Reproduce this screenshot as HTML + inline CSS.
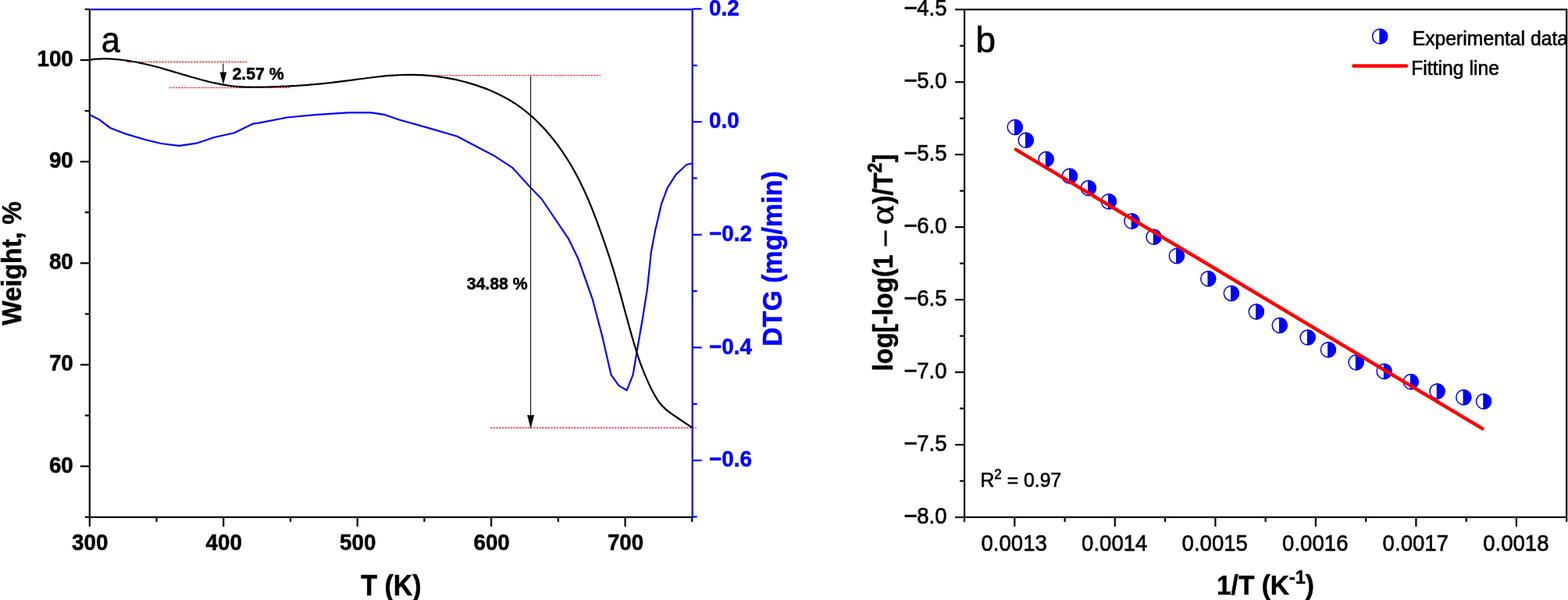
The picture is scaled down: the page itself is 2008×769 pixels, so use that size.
<!DOCTYPE html><html><head><meta charset="utf-8"><title>TG/DTG and kinetics plot</title><style>html,body{margin:0;padding:0;background:#fff;width:2008px;height:769px;overflow:hidden}</style></head><body><svg xmlns="http://www.w3.org/2000/svg" width="2008" height="769" viewBox="0 0 2008 769" style="display:block" font-family='"Liberation Sans", Arial, Helvetica, sans-serif'>
<defs><clipPath id="clipb"><rect x="1230" y="0" width="775.4" height="769"/></clipPath></defs>
<rect width="2008" height="769" fill="#fff"/>
<line x1="162.9" y1="79.4" x2="316.1" y2="79.4" stroke="#f00" stroke-width="1.2" stroke-dasharray="2.3 1.4" fill="none"/>
<line x1="217.1" y1="112.5" x2="370.4" y2="112.5" stroke="#f00" stroke-width="1.2" stroke-dasharray="2.3 1.4" fill="none"/>
<line x1="494" y1="96.5" x2="769.3" y2="96.5" stroke="#f00" stroke-width="1.2" stroke-dasharray="2.3 1.4" fill="none"/>
<line x1="627.8" y1="548.4" x2="891.8" y2="548.4" stroke="#f00" stroke-width="1.2" stroke-dasharray="2.3 1.4" fill="none"/>
<polyline points="114.8,147.0 127.5,153.6 141.2,164.0 159.3,171.1 186.7,179.3 206.4,184.0 229.4,186.8 251.3,183.7 274.3,176.0 299.5,170.5 323.6,158.7 330.0,157.9 367.8,150.5 403.7,147.2 445.5,144.3 475.4,144.3 493.3,147.2 511.2,153.5 550.0,164.4 585.4,174.8 632.9,199.7 656.1,214.8 679.3,240.2 693.6,255.0 727.9,305.8 739.9,330.4 743.5,340.0 758.7,383.3 771.6,432.4 782.6,480.4 792.6,494.4 802.7,500.2 810.6,480.4 814.9,454.6 823.0,407.8 828.9,370.4 833.9,322.7 839.4,293.9 847.2,260.8 854.9,240.4 866.0,223.2 879.2,211.0 885.9,209.5" fill="none" stroke="#00f" stroke-width="2.2" stroke-linejoin="round"/>
<path d="M114.8,76.6 C116.1,76.5 120.1,75.9 122.8,75.7 C125.5,75.5 128.1,75.4 130.8,75.3 C133.5,75.2 136.1,75.3 138.8,75.4 C141.5,75.5 144.1,75.6 146.8,75.8 C149.5,76.0 152.1,76.3 154.8,76.6 C157.5,76.9 160.1,77.3 162.8,77.7 C165.5,78.1 168.1,78.6 170.8,79.0 C173.5,79.5 176.1,80.0 178.8,80.6 C181.5,81.1 184.1,81.7 186.8,82.3 C189.5,82.9 192.1,83.6 194.8,84.2 C197.5,84.9 200.1,85.6 202.8,86.3 C205.5,87.0 208.1,87.8 210.8,88.6 C213.5,89.3 216.1,90.1 218.8,90.9 C221.5,91.7 224.1,92.5 226.8,93.3 C229.5,94.1 232.1,94.9 234.8,95.7 C237.5,96.5 240.1,97.3 242.8,98.0 C245.5,98.8 248.1,99.6 250.8,100.3 C253.5,101.1 256.1,101.8 258.8,102.5 C261.5,103.2 264.1,103.9 266.8,104.6 C269.5,105.2 272.1,105.9 274.8,106.4 C277.5,107.0 280.1,107.6 282.8,108.1 C285.5,108.6 288.1,109.0 290.8,109.4 C293.5,109.8 296.1,110.2 298.8,110.5 C301.5,110.8 304.1,111.0 306.8,111.2 C309.5,111.4 312.1,111.5 314.8,111.6 C317.5,111.7 320.1,111.7 322.8,111.7 C325.5,111.8 328.1,111.7 330.8,111.7 C333.5,111.7 336.1,111.6 338.8,111.5 C341.5,111.5 344.1,111.4 346.8,111.3 C349.5,111.2 352.1,111.1 354.8,111.0 C357.5,110.9 360.1,110.8 362.8,110.7 C365.5,110.6 368.1,110.5 370.8,110.3 C373.5,110.2 376.1,110.0 378.8,109.9 C381.5,109.7 384.1,109.5 386.8,109.4 C389.5,109.2 392.1,109.0 394.8,108.8 C397.5,108.5 400.1,108.3 402.8,108.1 C405.5,107.8 408.1,107.6 410.8,107.3 C413.5,107.1 416.1,106.8 418.8,106.5 C421.5,106.2 424.1,105.9 426.8,105.6 C429.5,105.3 432.1,104.9 434.8,104.6 C437.5,104.3 440.1,103.9 442.8,103.6 C445.5,103.3 448.1,102.9 450.8,102.6 C453.5,102.2 456.1,101.9 458.8,101.5 C461.5,101.2 464.1,100.8 466.8,100.5 C469.5,100.1 472.1,99.8 474.8,99.5 C477.5,99.1 480.1,98.8 482.8,98.5 C485.5,98.2 488.1,97.9 490.8,97.6 C493.5,97.3 496.1,97.1 498.8,96.9 C501.5,96.7 504.1,96.5 506.8,96.4 C509.5,96.2 512.1,96.1 514.8,96.0 C517.5,95.9 520.1,95.9 522.8,95.9 C525.5,95.9 528.1,95.9 530.8,95.9 C533.5,96.0 536.1,96.1 538.8,96.2 C541.5,96.4 544.1,96.5 546.8,96.7 C549.5,96.9 552.1,97.2 554.8,97.5 C557.5,97.7 560.1,98.1 562.8,98.4 C565.5,98.8 568.1,99.2 570.8,99.6 C573.5,100.1 576.1,100.6 578.8,101.1 C581.5,101.6 584.1,102.2 586.8,102.8 C589.5,103.4 592.1,104.1 594.8,104.8 C597.5,105.5 600.1,106.3 602.8,107.1 C605.5,107.9 608.1,108.7 610.8,109.6 C613.5,110.5 616.1,111.4 618.8,112.4 C621.5,113.4 624.1,114.4 626.8,115.5 C629.5,116.6 632.1,117.8 634.8,119.0 C637.5,120.3 640.1,121.5 642.8,122.9 C645.5,124.3 648.1,125.8 650.8,127.3 C653.5,128.9 656.1,130.5 658.8,132.2 C661.5,134.0 664.1,135.8 666.8,137.7 C669.5,139.7 672.6,142.2 674.8,143.9 C677.0,145.7 678.6,147.1 680.0,148.3 C681.4,149.5 682.0,150.1 683.0,151.0 C684.0,151.9 685.0,152.8 686.0,153.8 C687.0,154.7 688.0,155.7 689.0,156.7 C690.0,157.7 691.0,158.7 692.0,159.7 C693.0,160.8 694.0,161.8 695.0,162.9 C696.0,163.9 697.0,165.0 698.0,166.1 C699.0,167.2 700.0,168.4 701.0,169.5 C702.0,170.7 703.0,171.9 704.0,173.1 C705.0,174.2 706.0,175.5 707.0,176.7 C708.0,177.9 709.0,179.2 710.0,180.5 C711.0,181.8 712.0,183.1 713.0,184.4 C714.0,185.8 715.0,187.1 716.0,188.5 C717.0,189.9 718.0,191.3 719.0,192.7 C720.0,194.1 721.0,195.6 722.0,197.1 C723.0,198.6 724.0,200.1 725.0,201.6 C726.0,203.2 727.0,204.8 728.0,206.4 C729.0,208.0 730.0,209.6 731.0,211.3 C732.0,213.0 733.0,214.7 734.0,216.5 C735.0,218.2 736.0,220.0 737.0,221.9 C738.0,223.7 739.0,225.6 740.0,227.5 C741.0,229.4 742.0,231.4 743.0,233.4 C744.0,235.4 745.0,237.5 746.0,239.6 C747.0,241.7 748.0,243.8 749.0,246.0 C750.0,248.3 751.0,250.5 752.0,252.8 C753.0,255.1 754.0,257.5 755.0,259.9 C756.0,262.3 757.0,264.7 758.0,267.2 C759.0,269.7 760.0,272.3 761.0,274.9 C762.0,277.4 763.0,280.1 764.0,282.7 C765.0,285.4 766.0,288.1 767.0,290.8 C768.0,293.6 769.0,296.3 770.0,299.2 C771.0,302.0 772.0,304.8 773.0,307.7 C774.0,310.6 775.0,313.5 776.0,316.4 C777.0,319.3 778.0,322.3 779.0,325.3 C780.0,328.4 781.0,331.4 782.0,334.6 C783.0,337.7 784.0,340.9 785.0,344.2 C786.0,347.4 787.0,350.8 788.0,354.2 C789.0,357.6 790.0,361.1 791.0,364.6 C792.0,368.2 793.0,371.8 794.0,375.4 C795.0,379.0 796.0,382.7 797.0,386.4 C798.0,390.1 799.0,393.8 800.0,397.5 C801.0,401.1 802.0,404.8 803.0,408.5 C804.0,412.2 805.0,415.8 806.0,419.4 C807.0,423.0 808.0,426.6 809.0,430.1 C810.0,433.6 811.0,437.0 812.0,440.4 C813.0,443.7 814.0,447.0 815.0,450.2 C816.0,453.4 817.0,456.5 818.0,459.4 C819.0,462.4 819.7,464.6 821.0,468.1 C822.3,471.6 823.6,475.2 825.9,480.4 C828.2,485.6 831.5,493.6 834.6,499.5 C837.7,505.4 841.1,511.6 844.4,516.0 C847.6,520.4 850.9,523.1 854.1,525.9 C857.4,528.7 860.6,530.7 863.9,533.0 C867.2,535.3 870.0,537.2 873.7,539.7 C877.4,542.2 884.1,546.5 886.2,547.9" fill="none" stroke="#000" stroke-width="2.2" stroke-linejoin="round"/>
<line x1="285.8" y1="81.2" x2="285.8" y2="100" stroke="#000" stroke-width="1.1"/>
<polygon points="281.6,92.4 290.2,92.4 285.9,108.4" fill="#000"/>
<line x1="679.6" y1="97.6" x2="679.6" y2="540" stroke="#000" stroke-width="1.1"/>
<polygon points="675.2,532 684.1,532 679.6,549.6" fill="#000"/>
<line x1="114.8" y1="12.2" x2="886.7" y2="12.2" stroke="#00f" stroke-width="2.2"/>
<line x1="886.7" y1="12.2" x2="886.7" y2="662.9" stroke="#00f" stroke-width="2.2"/>
<line x1="114.8" y1="11.2" x2="114.8" y2="663.9" stroke="#000" stroke-width="2.2"/>
<line x1="113.8" y1="662.9" x2="887.7" y2="662.9" stroke="#000" stroke-width="2.2"/>
<line x1="108.8" y1="662.7" x2="114.8" y2="662.7" stroke="#000" stroke-width="2.2"/>
<line x1="102.8" y1="597.6" x2="114.8" y2="597.6" stroke="#000" stroke-width="2.2"/>
<line x1="108.8" y1="532.5" x2="114.8" y2="532.5" stroke="#000" stroke-width="2.2"/>
<line x1="102.8" y1="467.5" x2="114.8" y2="467.5" stroke="#000" stroke-width="2.2"/>
<line x1="108.8" y1="402.4" x2="114.8" y2="402.4" stroke="#000" stroke-width="2.2"/>
<line x1="102.8" y1="337.3" x2="114.8" y2="337.3" stroke="#000" stroke-width="2.2"/>
<line x1="108.8" y1="272.2" x2="114.8" y2="272.2" stroke="#000" stroke-width="2.2"/>
<line x1="102.8" y1="207.2" x2="114.8" y2="207.2" stroke="#000" stroke-width="2.2"/>
<line x1="108.8" y1="142.1" x2="114.8" y2="142.1" stroke="#000" stroke-width="2.2"/>
<line x1="102.8" y1="77.0" x2="114.8" y2="77.0" stroke="#000" stroke-width="2.2"/>
<line x1="108.8" y1="11.9" x2="114.8" y2="11.9" stroke="#000" stroke-width="2.2"/>
<line x1="114.8" y1="662.9" x2="114.8" y2="674.9" stroke="#000" stroke-width="2.2"/>
<line x1="200.5" y1="662.9" x2="200.5" y2="668.9" stroke="#000" stroke-width="2.2"/>
<line x1="286.2" y1="662.9" x2="286.2" y2="674.9" stroke="#000" stroke-width="2.2"/>
<line x1="372.0" y1="662.9" x2="372.0" y2="668.9" stroke="#000" stroke-width="2.2"/>
<line x1="457.7" y1="662.9" x2="457.7" y2="674.9" stroke="#000" stroke-width="2.2"/>
<line x1="543.4" y1="662.9" x2="543.4" y2="668.9" stroke="#000" stroke-width="2.2"/>
<line x1="629.1" y1="662.9" x2="629.1" y2="674.9" stroke="#000" stroke-width="2.2"/>
<line x1="714.9" y1="662.9" x2="714.9" y2="668.9" stroke="#000" stroke-width="2.2"/>
<line x1="800.6" y1="662.9" x2="800.6" y2="674.9" stroke="#000" stroke-width="2.2"/>
<line x1="886.3" y1="662.9" x2="886.3" y2="668.9" stroke="#000" stroke-width="2.2"/>
<line x1="886.7" y1="662.4" x2="892.7" y2="662.4" stroke="#00f" stroke-width="2.2"/>
<line x1="886.7" y1="590.1" x2="898.7" y2="590.1" stroke="#00f" stroke-width="2.2"/>
<line x1="886.7" y1="517.8" x2="892.7" y2="517.8" stroke="#00f" stroke-width="2.2"/>
<line x1="886.7" y1="445.4" x2="898.7" y2="445.4" stroke="#00f" stroke-width="2.2"/>
<line x1="886.7" y1="373.1" x2="892.7" y2="373.1" stroke="#00f" stroke-width="2.2"/>
<line x1="886.7" y1="300.8" x2="898.7" y2="300.8" stroke="#00f" stroke-width="2.2"/>
<line x1="886.7" y1="228.4" x2="892.7" y2="228.4" stroke="#00f" stroke-width="2.2"/>
<line x1="886.7" y1="156.1" x2="898.7" y2="156.1" stroke="#00f" stroke-width="2.2"/>
<line x1="886.7" y1="83.8" x2="892.7" y2="83.8" stroke="#00f" stroke-width="2.2"/>
<line x1="886.7" y1="11.4" x2="898.7" y2="11.4" stroke="#00f" stroke-width="2.2"/>
<text transform="translate(93.80,605.50) scale(1.0,1.065)" font-size="27.8" font-weight="bold" text-anchor="end" stroke="#000" stroke-width="0.5">60</text>
<text transform="translate(93.80,475.35) scale(1.0,1.065)" font-size="27.8" font-weight="bold" text-anchor="end" stroke="#000" stroke-width="0.5">70</text>
<text transform="translate(93.80,345.20) scale(1.0,1.065)" font-size="27.8" font-weight="bold" text-anchor="end" stroke="#000" stroke-width="0.5">80</text>
<text transform="translate(93.80,215.05) scale(1.0,1.065)" font-size="27.8" font-weight="bold" text-anchor="end" stroke="#000" stroke-width="0.5">90</text>
<text transform="translate(93.80,84.90) scale(1.0,1.065)" font-size="27.8" font-weight="bold" text-anchor="end" stroke="#000" stroke-width="0.5">100</text>
<text transform="translate(115.25,704.95) scale(1.0,1.065)" font-size="27.8" font-weight="bold" text-anchor="middle" stroke="#000" stroke-width="0.5">300</text>
<text transform="translate(286.70,704.95) scale(1.0,1.065)" font-size="27.8" font-weight="bold" text-anchor="middle" stroke="#000" stroke-width="0.5">400</text>
<text transform="translate(458.15,704.95) scale(1.0,1.065)" font-size="27.8" font-weight="bold" text-anchor="middle" stroke="#000" stroke-width="0.5">500</text>
<text transform="translate(629.60,704.95) scale(1.0,1.065)" font-size="27.8" font-weight="bold" text-anchor="middle" stroke="#000" stroke-width="0.5">600</text>
<text transform="translate(801.05,704.95) scale(1.0,1.065)" font-size="27.8" font-weight="bold" text-anchor="middle" stroke="#000" stroke-width="0.5">700</text>
<text transform="translate(908.10,19.54) scale(1.0,1.065)" font-size="27.8" font-weight="bold" fill="#00f" stroke="#00f" stroke-width="0.5">0.2</text>
<text transform="translate(908.10,164.20) scale(1.0,1.065)" font-size="27.8" font-weight="bold" fill="#00f" stroke="#00f" stroke-width="0.5">0.0</text>
<text transform="translate(908.10,308.86) scale(1.0,1.065)" font-size="27.8" font-weight="bold" fill="#00f" stroke="#00f" stroke-width="0.5">−0.2</text>
<text transform="translate(908.10,453.52) scale(1.0,1.065)" font-size="27.8" font-weight="bold" fill="#00f" stroke="#00f" stroke-width="0.5">−0.4</text>
<text transform="translate(908.10,598.18) scale(1.0,1.065)" font-size="27.8" font-weight="bold" fill="#00f" stroke="#00f" stroke-width="0.5">−0.6</text>
<text transform="translate(129.80,67.00) scale(0.94,1.0)" font-size="46" stroke="#000" stroke-width="0.6">a</text>
<text transform="translate(297.45,102.35) scale(1.0,1.055)" font-size="21.3" font-weight="bold" stroke="#000" stroke-width="0.5">2.57 %</text>
<text transform="translate(597.70,370.90) scale(1.0,1.055)" font-size="21.3" font-weight="bold" stroke="#000" stroke-width="0.5">34.88 %</text>
<text transform="translate(500.95,763.00) scale(1.0,1.06)" font-size="34" font-weight="bold" text-anchor="middle" stroke="#000" stroke-width="0.5">T (K)</text>
<text transform="translate(26.50,337.60) rotate(-90) scale(1.0,1.03)" font-size="33.4" font-weight="bold" text-anchor="middle" stroke="#000" stroke-width="0.5">Weight, %</text>
<text transform="translate(1001.00,331.60) rotate(-90) scale(1.0,1.02)" font-size="34" font-weight="bold" text-anchor="middle" fill="#00f" stroke="#00f" stroke-width="0.5">DTG (mg/min)</text>
<circle cx="1299.7" cy="163" r="9.5" fill="#fff" stroke="#00f" stroke-width="1.5"/><path d="M1299.7,153.5 A9.5,9.5 0 0 1 1299.7,172.5 Z" fill="#00f" stroke="#00f" stroke-width="1.5"/>
<circle cx="1313.7" cy="179.8" r="9.5" fill="#fff" stroke="#00f" stroke-width="1.5"/><path d="M1313.7,170.3 A9.5,9.5 0 0 1 1313.7,189.3 Z" fill="#00f" stroke="#00f" stroke-width="1.5"/>
<circle cx="1339.6" cy="204.1" r="9.5" fill="#fff" stroke="#00f" stroke-width="1.5"/><path d="M1339.6,194.6 A9.5,9.5 0 0 1 1339.6,213.6 Z" fill="#00f" stroke="#00f" stroke-width="1.5"/>
<circle cx="1369.8" cy="225.8" r="9.5" fill="#fff" stroke="#00f" stroke-width="1.5"/><path d="M1369.8,216.3 A9.5,9.5 0 0 1 1369.8,235.3 Z" fill="#00f" stroke="#00f" stroke-width="1.5"/>
<circle cx="1393.8" cy="241.1" r="9.5" fill="#fff" stroke="#00f" stroke-width="1.5"/><path d="M1393.8,231.6 A9.5,9.5 0 0 1 1393.8,250.6 Z" fill="#00f" stroke="#00f" stroke-width="1.5"/>
<circle cx="1419.8" cy="258.3" r="9.5" fill="#fff" stroke="#00f" stroke-width="1.5"/><path d="M1419.8,248.8 A9.5,9.5 0 0 1 1419.8,267.8 Z" fill="#00f" stroke="#00f" stroke-width="1.5"/>
<circle cx="1449.4" cy="283.5" r="9.5" fill="#fff" stroke="#00f" stroke-width="1.5"/><path d="M1449.4,274.0 A9.5,9.5 0 0 1 1449.4,293.0 Z" fill="#00f" stroke="#00f" stroke-width="1.5"/>
<circle cx="1477.5" cy="303.8" r="9.5" fill="#fff" stroke="#00f" stroke-width="1.5"/><path d="M1477.5,294.3 A9.5,9.5 0 0 1 1477.5,313.3 Z" fill="#00f" stroke="#00f" stroke-width="1.5"/>
<circle cx="1506.8" cy="328" r="9.5" fill="#fff" stroke="#00f" stroke-width="1.5"/><path d="M1506.8,318.5 A9.5,9.5 0 0 1 1506.8,337.5 Z" fill="#00f" stroke="#00f" stroke-width="1.5"/>
<circle cx="1547.2" cy="357.2" r="9.5" fill="#fff" stroke="#00f" stroke-width="1.5"/><path d="M1547.2,347.7 A9.5,9.5 0 0 1 1547.2,366.7 Z" fill="#00f" stroke="#00f" stroke-width="1.5"/>
<circle cx="1576.8" cy="375.9" r="9.5" fill="#fff" stroke="#00f" stroke-width="1.5"/><path d="M1576.8,366.4 A9.5,9.5 0 0 1 1576.8,385.4 Z" fill="#00f" stroke="#00f" stroke-width="1.5"/>
<circle cx="1608.8" cy="399.6" r="9.5" fill="#fff" stroke="#00f" stroke-width="1.5"/><path d="M1608.8,390.1 A9.5,9.5 0 0 1 1608.8,409.1 Z" fill="#00f" stroke="#00f" stroke-width="1.5"/>
<circle cx="1638.7" cy="417" r="9.5" fill="#fff" stroke="#00f" stroke-width="1.5"/><path d="M1638.7,407.5 A9.5,9.5 0 0 1 1638.7,426.5 Z" fill="#00f" stroke="#00f" stroke-width="1.5"/>
<circle cx="1674.6" cy="432.6" r="9.5" fill="#fff" stroke="#00f" stroke-width="1.5"/><path d="M1674.6,423.1 A9.5,9.5 0 0 1 1674.6,442.1 Z" fill="#00f" stroke="#00f" stroke-width="1.5"/>
<circle cx="1700.9" cy="448.2" r="9.5" fill="#fff" stroke="#00f" stroke-width="1.5"/><path d="M1700.9,438.7 A9.5,9.5 0 0 1 1700.9,457.7 Z" fill="#00f" stroke="#00f" stroke-width="1.5"/>
<circle cx="1736.6" cy="464.5" r="9.5" fill="#fff" stroke="#00f" stroke-width="1.5"/><path d="M1736.6,455.0 A9.5,9.5 0 0 1 1736.6,474.0 Z" fill="#00f" stroke="#00f" stroke-width="1.5"/>
<circle cx="1772.6" cy="476" r="9.5" fill="#fff" stroke="#00f" stroke-width="1.5"/><path d="M1772.6,466.5 A9.5,9.5 0 0 1 1772.6,485.5 Z" fill="#00f" stroke="#00f" stroke-width="1.5"/>
<circle cx="1806.7" cy="489.3" r="9.5" fill="#fff" stroke="#00f" stroke-width="1.5"/><path d="M1806.7,479.8 A9.5,9.5 0 0 1 1806.7,498.8 Z" fill="#00f" stroke="#00f" stroke-width="1.5"/>
<circle cx="1840.5" cy="501.4" r="9.5" fill="#fff" stroke="#00f" stroke-width="1.5"/><path d="M1840.5,491.9 A9.5,9.5 0 0 1 1840.5,510.9 Z" fill="#00f" stroke="#00f" stroke-width="1.5"/>
<circle cx="1874.3" cy="509.2" r="9.5" fill="#fff" stroke="#00f" stroke-width="1.5"/><path d="M1874.3,499.7 A9.5,9.5 0 0 1 1874.3,518.7 Z" fill="#00f" stroke="#00f" stroke-width="1.5"/>
<circle cx="1900" cy="514.5" r="9.5" fill="#fff" stroke="#00f" stroke-width="1.5"/><path d="M1900,505.0 A9.5,9.5 0 0 1 1900,524.0 Z" fill="#00f" stroke="#00f" stroke-width="1.5"/>
<line x1="1300.8" y1="191.6" x2="1898.4" y2="549.4" stroke="#f00" stroke-width="4.5" stroke-linecap="round"/>
<rect x="1235.1" y="12.2" width="771.1" height="650.7" fill="none" stroke="#000" stroke-width="2.2"/>
<line x1="1223.1" y1="12.2" x2="1235.1" y2="12.2" stroke="#000" stroke-width="2.2"/>
<line x1="1229.1" y1="58.7" x2="1235.1" y2="58.7" stroke="#000" stroke-width="2.2"/>
<line x1="1223.1" y1="105.2" x2="1235.1" y2="105.2" stroke="#000" stroke-width="2.2"/>
<line x1="1229.1" y1="151.7" x2="1235.1" y2="151.7" stroke="#000" stroke-width="2.2"/>
<line x1="1223.1" y1="198.1" x2="1235.1" y2="198.1" stroke="#000" stroke-width="2.2"/>
<line x1="1229.1" y1="244.6" x2="1235.1" y2="244.6" stroke="#000" stroke-width="2.2"/>
<line x1="1223.1" y1="291.1" x2="1235.1" y2="291.1" stroke="#000" stroke-width="2.2"/>
<line x1="1229.1" y1="337.6" x2="1235.1" y2="337.6" stroke="#000" stroke-width="2.2"/>
<line x1="1223.1" y1="384.1" x2="1235.1" y2="384.1" stroke="#000" stroke-width="2.2"/>
<line x1="1229.1" y1="430.6" x2="1235.1" y2="430.6" stroke="#000" stroke-width="2.2"/>
<line x1="1223.1" y1="477.1" x2="1235.1" y2="477.1" stroke="#000" stroke-width="2.2"/>
<line x1="1229.1" y1="523.5" x2="1235.1" y2="523.5" stroke="#000" stroke-width="2.2"/>
<line x1="1223.1" y1="570.0" x2="1235.1" y2="570.0" stroke="#000" stroke-width="2.2"/>
<line x1="1229.1" y1="616.5" x2="1235.1" y2="616.5" stroke="#000" stroke-width="2.2"/>
<line x1="1223.1" y1="663.0" x2="1235.1" y2="663.0" stroke="#000" stroke-width="2.2"/>
<line x1="1235.0" y1="662.9" x2="1235.0" y2="668.9" stroke="#000" stroke-width="2.2"/>
<line x1="1299.3" y1="662.9" x2="1299.3" y2="674.9" stroke="#000" stroke-width="2.2"/>
<line x1="1363.6" y1="662.9" x2="1363.6" y2="668.9" stroke="#000" stroke-width="2.2"/>
<line x1="1427.8" y1="662.9" x2="1427.8" y2="674.9" stroke="#000" stroke-width="2.2"/>
<line x1="1492.1" y1="662.9" x2="1492.1" y2="668.9" stroke="#000" stroke-width="2.2"/>
<line x1="1556.4" y1="662.9" x2="1556.4" y2="674.9" stroke="#000" stroke-width="2.2"/>
<line x1="1620.6" y1="662.9" x2="1620.6" y2="668.9" stroke="#000" stroke-width="2.2"/>
<line x1="1684.9" y1="662.9" x2="1684.9" y2="674.9" stroke="#000" stroke-width="2.2"/>
<line x1="1749.2" y1="662.9" x2="1749.2" y2="668.9" stroke="#000" stroke-width="2.2"/>
<line x1="1813.4" y1="662.9" x2="1813.4" y2="674.9" stroke="#000" stroke-width="2.2"/>
<line x1="1877.7" y1="662.9" x2="1877.7" y2="668.9" stroke="#000" stroke-width="2.2"/>
<line x1="1941.9" y1="662.9" x2="1941.9" y2="674.9" stroke="#000" stroke-width="2.2"/>
<line x1="2006.2" y1="662.9" x2="2006.2" y2="668.9" stroke="#000" stroke-width="2.2"/>
<text transform="translate(1212.50,20.30) scale(1.0,1.07)" font-size="27.6" text-anchor="end" stroke="#000" stroke-width="0.6"><tspan font-size="30" dy="0.6" letter-spacing="-0.8">−</tspan><tspan dy="-0.6">4.5</tspan></text>
<text transform="translate(1212.50,113.27) scale(1.0,1.07)" font-size="27.6" text-anchor="end" stroke="#000" stroke-width="0.6"><tspan font-size="30" dy="0.6" letter-spacing="-0.8">−</tspan><tspan dy="-0.6">5.0</tspan></text>
<text transform="translate(1212.50,206.24) scale(1.0,1.07)" font-size="27.6" text-anchor="end" stroke="#000" stroke-width="0.6"><tspan font-size="30" dy="0.6" letter-spacing="-0.8">−</tspan><tspan dy="-0.6">5.5</tspan></text>
<text transform="translate(1212.50,299.21) scale(1.0,1.07)" font-size="27.6" text-anchor="end" stroke="#000" stroke-width="0.6"><tspan font-size="30" dy="0.6" letter-spacing="-0.8">−</tspan><tspan dy="-0.6">6.0</tspan></text>
<text transform="translate(1212.50,392.18) scale(1.0,1.07)" font-size="27.6" text-anchor="end" stroke="#000" stroke-width="0.6"><tspan font-size="30" dy="0.6" letter-spacing="-0.8">−</tspan><tspan dy="-0.6">6.5</tspan></text>
<text transform="translate(1212.50,485.15) scale(1.0,1.07)" font-size="27.6" text-anchor="end" stroke="#000" stroke-width="0.6"><tspan font-size="30" dy="0.6" letter-spacing="-0.8">−</tspan><tspan dy="-0.6">7.0</tspan></text>
<text transform="translate(1212.50,578.12) scale(1.0,1.07)" font-size="27.6" text-anchor="end" stroke="#000" stroke-width="0.6"><tspan font-size="30" dy="0.6" letter-spacing="-0.8">−</tspan><tspan dy="-0.6">7.5</tspan></text>
<text transform="translate(1212.50,671.09) scale(1.0,1.07)" font-size="27.6" text-anchor="end" stroke="#000" stroke-width="0.6"><tspan font-size="30" dy="0.6" letter-spacing="-0.8">−</tspan><tspan dy="-0.6">8.0</tspan></text>
<text transform="translate(1298.70,705.90) scale(1.0,1.07)" font-size="27.6" text-anchor="middle" stroke="#000" stroke-width="0.6">0.0013</text>
<text transform="translate(1427.23,705.90) scale(1.0,1.07)" font-size="27.6" text-anchor="middle" stroke="#000" stroke-width="0.6">0.0014</text>
<text transform="translate(1555.76,705.90) scale(1.0,1.07)" font-size="27.6" text-anchor="middle" stroke="#000" stroke-width="0.6">0.0015</text>
<text transform="translate(1684.29,705.90) scale(1.0,1.07)" font-size="27.6" text-anchor="middle" stroke="#000" stroke-width="0.6">0.0016</text>
<text transform="translate(1812.82,705.90) scale(1.0,1.07)" font-size="27.6" text-anchor="middle" stroke="#000" stroke-width="0.6">0.0017</text>
<text transform="translate(1941.35,705.90) scale(1.0,1.07)" font-size="27.6" text-anchor="middle" stroke="#000" stroke-width="0.6">0.0018</text>
<text transform="translate(1249.50,66.50)" font-size="46" stroke="#000" stroke-width="0.6">b</text>
<circle cx="1767.1" cy="46.8" r="9.5" fill="#fff" stroke="#00f" stroke-width="1.5"/><path d="M1767.1,37.3 A9.5,9.5 0 0 1 1767.1,56.3 Z" fill="#00f" stroke="#00f" stroke-width="1.5"/>
<g clip-path="url(#clipb)">
<text transform="translate(1808.70,57.60) scale(1.0,1.04)" font-size="24.75" stroke="#000" stroke-width="0.6">Experimental data</text>
</g>
<line x1="1733.5" y1="84.5" x2="1801" y2="84.5" stroke="#f00" stroke-width="4.5" stroke-linecap="round"/>
<text transform="translate(1807.20,95.60) scale(1.0,1.04)" font-size="24.75" stroke="#000" stroke-width="0.6">Fitting line</text>
<text transform="translate(1255.50,624.20) scale(1.0,1.04)" font-size="24.75" stroke="#000" stroke-width="0.6">R<tspan font-size="17" dy="-10">2</tspan><tspan dy="10"> = 0.97</tspan></text>
<text transform="translate(1620.50,762.00) scale(1.0,1.04)" font-size="33.5" font-weight="bold" text-anchor="middle" stroke="#000" stroke-width="0.5">1/T (K<tspan font-size="23.5" dy="-13">-1</tspan><tspan dy="13">)</tspan></text>
<text transform="translate(1143.30,475.50) rotate(-90) scale(1.0,1.08)" font-size="32.8" font-weight="bold" stroke="#000" stroke-width="0.5">log[-log(1</text>
<text transform="translate(1144.80,317.30) rotate(-90) scale(1.2,1.0)" font-size="32.8" stroke="#000" stroke-width="0.6">−</text>
<text transform="translate(1143.60,288.20) rotate(-90) scale(1.1,1.0)" font-size="44" stroke="#000" stroke-width="0.6" font-family='"Liberation Serif", "Times New Roman", serif'>α</text>
<text transform="translate(1143.30,197.40) rotate(-90) scale(1.0,1.08)" font-size="32.8" font-weight="bold" text-anchor="end" stroke="#000" stroke-width="0.5">)/T<tspan font-size="23.5" dy="-13.5">2</tspan><tspan dy="13.5">]</tspan></text>
</svg></body></html>
